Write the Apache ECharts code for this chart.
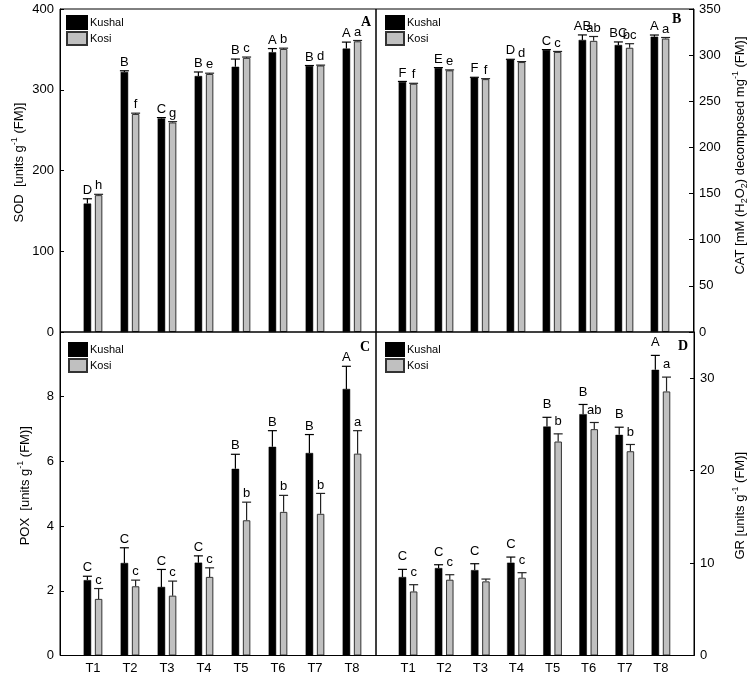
<!DOCTYPE html>
<html><head><meta charset="utf-8">
<script src="https://cdn.jsdelivr.net/npm/echarts@6/dist/echarts.min.js"></script>
<style>html,body{margin:0;padding:0;background:#fff}#c{width:750px;height:675px}</style>
</head><body><div id="c"></div>
<script>
// ---------- DATA ----------
const categories = ['T1','T2','T3','T4','T5','T6','T7','T8'];
const seriesNames = ['Kushal','Kosi'];

// A: SOD
const sodKushal    = [159, 322, 264.5, 317, 328.5, 346.5, 329.5, 351];
const sodKushalErr = [6, 1.5, 1, 5, 9.5, 4.5, 0.5, 8];
const sodKosi      = [169.5, 270, 259.5, 319.5, 339.5, 350.5, 330, 360];
const sodKosiErr   = [1, 1, 1, 1, 1, 1, 0.5, 1];
const sodKushalLetters = ['D','B','C','B','B','A','B','A'];
const sodKosiLetters   = ['h','f','g','e','c','b','d','a'];

// B: CAT
const catKushal    = [271, 286, 275.5, 295, 305.5, 316.5, 311, 320];
const catKushalErr = [0.5, 0.5, 0.5, 0.5, 0.5, 5.4, 3.3, 1.8];
const catKosi      = [269, 283.5, 274, 292.5, 303.5, 315.5, 308, 318];
const catKosiErr   = [0.5, 0.5, 0.5, 0.5, 0.5, 4.7, 4.4, 1.1];
const catKushalLetters = ['F','E','F','D','C','AB','BC','A'];
const catKosiLetters   = ['f','e','f','d','c','ab','bc','a'];

// C: POX
const poxKushal    = [2.33, 2.86, 2.12, 2.87, 5.77, 6.45, 6.26, 8.24];
const poxKushalErr = [0.12, 0.47, 0.54, 0.21, 0.45, 0.5, 0.57, 0.7];
const poxKosi      = [1.75, 2.14, 1.85, 2.43, 4.18, 4.44, 4.38, 6.24];
const poxKosiErr   = [0.32, 0.19, 0.45, 0.28, 0.56, 0.51, 0.63, 0.71];
const poxKushalLetters = ['C','C','C','C','B','B','B','A'];
const poxKosiLetters   = ['c','c','c','c','b','b','b','a'];

// D: GR
const grKushal    = [8.49, 9.46, 9.24, 10.04, 24.77, 26.11, 23.87, 30.91];
const grKushalErr = [0.83, 0.36, 0.69, 0.61, 1.0, 1.05, 0.83, 1.56];
const grKosi      = [6.93, 8.2, 8.02, 8.42, 23.15, 24.49, 22.1, 28.57];
const grKosiErr   = [0.73, 0.54, 0.25, 0.54, 0.83, 0.72, 0.73, 1.55];
const grKushalLetters = ['C','C','C','C','B','B','B','A'];
const grKosiLetters   = ['c','c','','c','b','ab','b','a'];

// axis ranges / ticks
const sodAxis = {min:0, max:400, interval:100};
const catAxis = {min:0, max:350, interval:50};
const poxAxis = {min:0, max:10, interval:2};
const grAxis  = {min:0, max:35, interval:10};

const sodName = 'SOD  [units g{sup|-1} (FM)]';
const catName = 'CAT [mM (H{sub|2}O{sub|2}) decomposed mg{sup|-1} (FM)]';
const poxName = 'POX  [units g{sup|-1} (FM)]';
const grName  = 'GR [units g{sup|-1} (FM)]';

// ---------- STYLE / LAYOUT ----------
const FONT = '"Liberation Sans", Arial, sans-serif';
const BAR_W = 7.5;
const BAR_GAP_PX = 3.7;
const DX = (BAR_W + BAR_GAP_PX) / 2;
const KUSHAL_COLOR = '#000000';
const KOSI_COLOR = '#c0c0c0';

const panels = [
  {inner:{left:74.5, top:9, width:296, height:323}, outer:{left:60, top:9, width:316, height:323},
   pos:'left', offset:14.5, axis:sodAxis, name:sodName, nameGap:26, namePad:[0,0,0,16], showX:false, showMax:true,
   k:sodKushal, ke:sodKushalErr, o:sodKosi, oe:sodKosiErr, kl:sodKushalLetters, ol:sodKosiLetters, lgap:2,
   legend:{left:66, top:15, w:20}},
  {inner:{left:390, top:9, width:289, height:323}, outer:{left:376, top:9, width:318, height:323},
   pos:'right', offset:15, axis:catAxis, name:catName, nameGap:38, namePad:[0,0,0,30], showX:false, showMax:true,
   k:catKushal, ke:catKushalErr, o:catKosi, oe:catKosiErr, kl:catKushalLetters, ol:catKosiLetters, lgap:2,
   legend:{left:385, top:15, w:18}},
  {inner:{left:74.5, top:332, width:296, height:323.5}, outer:{left:60, top:332, width:316, height:323.5},
   pos:'left', offset:14.5, axis:poxAxis, name:poxName, nameGap:26, namePad:[0,0,0,16], showX:true, showMax:false,
   k:poxKushal, ke:poxKushalErr, o:poxKosi, oe:poxKosiErr, kl:poxKushalLetters, ol:poxKosiLetters, lgap:2,
   legend:{left:68, top:342, w:18}},
  {inner:{left:390, top:332, width:289, height:323.5}, outer:{left:376, top:332, width:318, height:323.5},
   pos:'right', offset:15, axis:grAxis, name:grName, nameGap:37, namePad:[0,24,0,0], showX:true, showMax:false,
   k:grKushal, ke:grKushalErr, o:grKosi, oe:grKosiErr, kl:grKushalLetters, ol:grKosiLetters, lgap:6,
   legend:{left:385, top:342, w:18}}
];

function errRenderer(vals, errs, letters, dx, color, gap) {
  return function (params, api) {
    const i = params.dataIndex;
    const base = api.coord([i, vals[i]]);
    const top = api.coord([i, vals[i] + errs[i]]);
    const cx = base[0] + dx;
    const children = [
      {type:'line', shape:{x1:cx, y1:base[1], x2:cx, y2:top[1]}, style:{stroke:color, lineWidth:1.2}},
      {type:'line', shape:{x1:cx-4.5, y1:top[1], x2:cx+4.5, y2:top[1]}, style:{stroke:color, lineWidth:1.2}}
    ];
    if (letters[i]) {
      children.push({type:'text', x:cx, y:top[1]-gap,
        style:{text:letters[i], align:'center', verticalAlign:'bottom', textAlign:'center', textVerticalAlign:'bottom',
               font:'13px ' + FONT, fill:'#000'}});
    }
    return {type:'group', children};
  };
}

const grids = [], xAxes = [], yAxes = [], series = [], legends = [];
panels.forEach((p, gi) => {
  grids.push(Object.assign({containLabel:false}, p.inner));
  xAxes.push({gridIndex:gi, type:'category', data:categories,
    axisLine:{show:false}, axisTick:{show:false},
    axisLabel:{show:p.showX, fontSize:13, fontFamily:FONT, color:'#000', margin:6},
    splitLine:{show:false}});
  yAxes.push({gridIndex:gi, type:'value', min:p.axis.min, max:p.axis.max, interval:p.axis.interval,
    position:p.pos, offset:p.offset,
    axisLine:{show:true, lineStyle:{color:'#000', width:1}},
    axisTick:{show:true, inside:true, length:4, lineStyle:{color:'#000'}},
    axisLabel:{fontSize:13, fontFamily:FONT, color:'#000', margin:6, showMaxLabel:p.showMax, showMinLabel:true},
    splitLine:{show:false},
    name:p.name, nameLocation:'middle', nameGap:p.nameGap,
    nameTextStyle:{fontSize:13, fontFamily:FONT, color:'#000', lineHeight:18, padding:p.namePad,
      rich:{
        sup:{fontSize:9, fontFamily:FONT, color:'#000', lineHeight:10, verticalAlign:'top'},
        sub:{fontSize:9, fontFamily:FONT, color:'#000', lineHeight:10, verticalAlign:'bottom'}
      }}
  });
  const kData = p.k.map((v) => v);
  const oData = p.o.map((v) => v);
  series.push({type:'bar', name:seriesNames[0], xAxisIndex:gi, yAxisIndex:gi, data:kData,
    barWidth:BAR_W, barGap:(BAR_GAP_PX / BAR_W * 100) + '%',
    itemStyle:{color:KUSHAL_COLOR, borderColor:'#000', borderWidth:0.5}, z:2});
  series.push({type:'bar', name:seriesNames[1], xAxisIndex:gi, yAxisIndex:gi, data:oData,
    barWidth:BAR_W, barGap:(BAR_GAP_PX / BAR_W * 100) + '%',
    itemStyle:{color:KOSI_COLOR, borderColor:'#333', borderWidth:1}, z:2});
  series.push({type:'custom', name:'errK' + gi, xAxisIndex:gi, yAxisIndex:gi,
    data:p.k.map((v, i) => [i, v, p.ke[i]]), encode:{x:0, y:1}, z:5, silent:true,
    renderItem:errRenderer(p.k, p.ke, p.kl, -DX, '#000', p.lgap)});
  series.push({type:'custom', name:'errO' + gi, xAxisIndex:gi, yAxisIndex:gi,
    data:p.o.map((v, i) => [i, v, p.oe[i]]), encode:{x:0, y:1}, z:5, silent:true,
    renderItem:errRenderer(p.o, p.oe, p.ol, DX, '#222', p.lgap)});
  legends.push({left:p.legend.left, top:p.legend.top, orient:'vertical', icon:'rect',
    itemWidth:p.legend.w, itemHeight:13, itemGap:1, padding:0, data:seriesNames, selectedMode:false,
    textStyle:{fontSize:11, fontFamily:FONT, color:'#000', padding:[0,0,0,-2]}});
});
// frame grids
panels.forEach((p, k) => {
  const gi = panels.length + k;
  grids.push(Object.assign({show:true, borderColor:'#000', borderWidth:1, backgroundColor:'transparent', z:3}, p.outer));
  xAxes.push({gridIndex:gi, type:'value', show:false, min:0, max:1});
  yAxes.push({gridIndex:gi, type:'value', show:false, min:0, max:1});
});

const letterFont = 'bold 14px "Liberation Serif", "Times New Roman", serif';
const option = {
  animation:false,
  backgroundColor:'#fff',
  grid:grids, xAxis:xAxes, yAxis:yAxes, series:series, legend:legends,
  graphic:[
    {type:'text', left:361, top:15, style:{text:'A', font:letterFont, fill:'#000'}},
    {type:'text', left:672, top:12, style:{text:'B', font:letterFont, fill:'#000'}},
    {type:'text', left:360, top:340, style:{text:'C', font:letterFont, fill:'#000'}},
    {type:'text', left:678, top:339, style:{text:'D', font:letterFont, fill:'#000'}}
  ]
};
const chart = echarts.init(document.getElementById('c'), null, {renderer:'canvas'});
chart.setOption(option);
</script></body></html>
